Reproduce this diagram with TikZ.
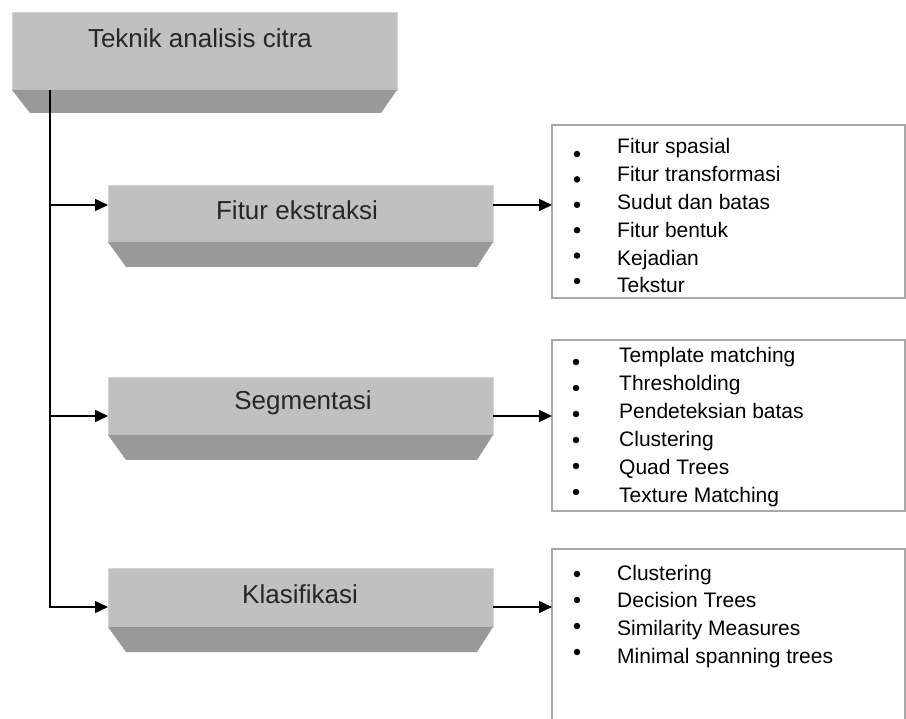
\documentclass[tikz,border=0pt]{standalone}
\usepackage{fontspec}
\setmainfont{Liberation Sans}
\usetikzlibrary{arrows.meta,calc}

\definecolor{facegray}{HTML}{C0C0C0}
\definecolor{bevelgray}{HTML}{999999}
\definecolor{edgegray}{HTML}{D4D4D4}
\definecolor{framegray}{HTML}{A8A8A8}

\tikzset{
  face/.style={rectangle, fill=facegray, draw=edgegray, line width=0.8pt,
    minimum width=385pt, anchor=north west, inner sep=0pt, outer sep=0pt},
  bevel/.style={fill=bevelgray, draw=none},
  boxlabel/.style={font=\fontsize{26}{30}\selectfont, text=black!85, inner sep=0pt, anchor=base},
  listframe/.style={rectangle, draw=framegray, line width=1.4pt, fill=white,
    anchor=north west, inner sep=0pt, outer sep=0pt},
  itemtext/.style={font=\fontsize{21}{24}\selectfont, inner sep=0pt, anchor=base west},
  bulletdot/.style={circle, fill=black, inner sep=0pt, minimum size=6.5pt},
  arr/.style={line width=1.6pt, -{Triangle[length=13pt,width=12pt]}},
}

% draws the darker slanted lower strip under a box face
\newcommand{\bevelunder}[2]{%
  \fill[bevel] (#1.south west) -- (#1.south east)
    -- ($(#1.south east)+(-16,#2)$) -- ($(#1.south west)+(18,#2)$) -- cycle;}

\begin{document}
\begin{tikzpicture}[x=1pt,y=-1pt]
\useasboundingbox (0,0) rectangle (906,719);

% main boxes
\node[face, minimum height=78pt] (top) at (12,12) {};
\bevelunder{top}{23}
\node[boxlabel] (toplabel) at (200,48) {Teknik analisis citra};

\node[face, minimum height=57pt] (fitur) at (108,185) {};
\bevelunder{fitur}{25}
\node[boxlabel] (fiturlabel) at (297,220) {Fitur ekstraksi};

\node[face, minimum height=58pt] (seg) at (108,377) {};
\bevelunder{seg}{25}
\node[boxlabel] (seglabel) at (303,410) {Segmentasi};

\node[face, minimum height=59pt] (klas) at (108,568) {};
\bevelunder{klas}{25}
\node[boxlabel] (klaslabel) at (300,603) {Klasifikasi};

% list frames
\node[listframe, minimum width=353pt, minimum height=173pt] (flist) at (552,125) {};
\node[listframe, minimum width=353pt, minimum height=171pt] (slist) at (552,340) {};
\node[listframe, minimum width=353pt, minimum height=180pt] (klist) at (552,549) {};

% ports of the connectors
\coordinate (trunk) at ([xshift=38pt]top.south west);
\coordinate (fitur-in)  at ([yshift=-20pt]fitur.north west);
\coordinate (fitur-out) at ([yshift=-20pt]fitur.north east);
\coordinate (seg-in)    at ([yshift=-39pt]seg.north west);
\coordinate (seg-out)   at ([yshift=-39pt]seg.north east);
\coordinate (klas-in)   at ([yshift=-39pt]klas.north west);
\coordinate (klas-out)  at ([yshift=-39pt]klas.north east);

% connectors
\draw[arr] (trunk) |- (klas-in);
\draw[arr] (trunk |- fitur-in) -- (fitur-in);
\draw[arr] (trunk |- seg-in) -- (seg-in);
\draw[arr] (fitur-out) -- (fitur-out -| flist.west);
\draw[arr] (seg-out) -- (seg-out -| slist.west);
\draw[arr] (klas-out) -- (klas-out -| klist.west);

% Fitur ekstraksi items
\foreach \t [count=\i from 0] in {Fitur spasial, Fitur transformasi, Sudut dan batas,
    Fitur bentuk, Kejadian, Tekstur} {
  \node[itemtext] (f\i) at (617,154+27.8*\i) {\t};
  \node[bulletdot] (fb\i) at (577,154+25.4*\i) {};
}

% Segmentasi items
\foreach \t [count=\i from 0] in {Template matching, Thresholding, Pendeteksian batas,
    Clustering, Quad Trees, Texture Matching} {
  \node[itemtext] (s\i) at (619,363+28*\i) {\t};
  \node[bulletdot] (sb\i) at (576,362+26*\i) {};
}

% Klasifikasi items
\foreach \t [count=\i from 0] in {Clustering, Decision Trees, Similarity Measures,
    Minimal spanning trees} {
  \node[itemtext] (k\i) at (617,580+27.7*\i) {\t};
  \node[bulletdot] (kb\i) at (577,574+26*\i) {};
}
\end{tikzpicture}
\end{document}
